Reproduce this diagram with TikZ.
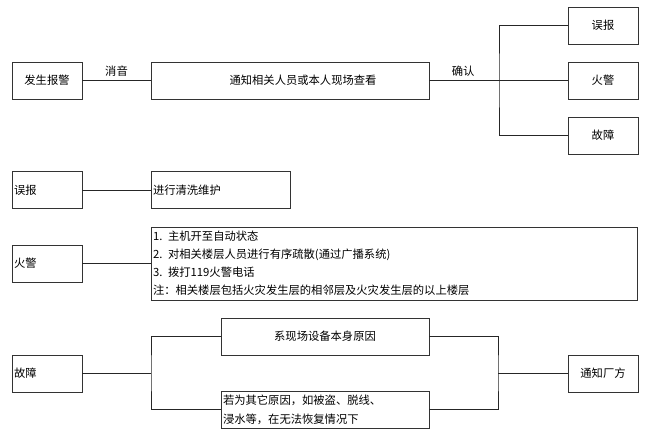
\documentclass[tikz,border=0pt]{standalone}
\usepackage{fontspec}
\setmainfont{Noto Sans CJK SC}
\begin{document}
\begin{tikzpicture}[x=1pt,y=-1pt,
  font=\fontsize{11.3}{13}\selectfont,
  bx/.style={draw=black!80, line width=0.8pt, inner sep=0pt, outer sep=0pt,
    minimum width=70pt, minimum height=37pt},
  lbx/.style={bx, text width=66pt, align=left, inner xsep=2pt},
  ln/.style={draw=black!85, line width=0.8pt}]
\useasboundingbox (0,0) rectangle (650,432);

% row 1
\node[bx] (alarm) at (47,80.5) {发生报警};
\node[bx, minimum width=278pt] (notify) at (290,80.5) {\hspace*{26pt}通知相关人员或本人现场查看};
\node[bx] (r1) at (603,25.5) {误报};
\node[bx] (r2) at (603,80.5) {火警};
\node[bx] (r3) at (603,135.5) {故障};
\coordinate (j1) at (499,80.5);
\draw[ln] (alarm) -- node[above=0pt] {消音} (notify);
\draw[ln] (notify) -- node[above=0pt, pos=0.245] {确认} (r2);
\draw[ln] (r1.west) -| (j1) |- (r3.west);

% row 2
\node[lbx] (fa) at (47,190) {误报};
\node[bx, minimum width=139pt, text width=135pt, align=left, inner xsep=2pt] (clean) at (220.5,190) {进行清洗维护};
\draw[ln] (fa) -- (clean);

% row 3
\node[lbx] (fire) at (47,263.5) {火警};
\node[bx, minimum width=486pt, minimum height=73pt, text width=482pt, align=left, inner xsep=2pt,
  font=\fontsize{11.3}{18}\selectfont] (steps) at (394,263.5)
  {1. 主机开至自动状态\\2. 对相关楼层人员进行有序疏散(通过广播系统)\\3. 拨打119火警电话\\注：相关楼层包括火灾发生层的相邻层及火灾发生层的以上楼层};
\draw[ln] (fire) -- (steps);

% row 4
\node[lbx] (fault) at (47,373.5) {故障};
\node[bx, minimum width=208pt] (own) at (325,336.5) {系现场设备本身原因};
\node[bx, minimum width=208pt, text width=204pt, align=left, inner xsep=2pt,
  font=\fontsize{11.3}{19}\selectfont] (other) at (325,409.5)
  {若为其它原因，如被盗、脱线、\\浸水等，在无法恢复情况下};
\node[bx] (maker) at (603,373.5) {通知厂方};
\coordinate (j2) at (151,373.5);
\coordinate (j3) at (498,373.5);
\draw[ln] (fault) -- (j2);
\draw[ln] (own.west) -| (j2) |- (other.west);
\draw[ln] (own.east) -| (j3) |- (other.east);
\draw[ln] (j3) -- (maker);
\end{tikzpicture}
\end{document}
